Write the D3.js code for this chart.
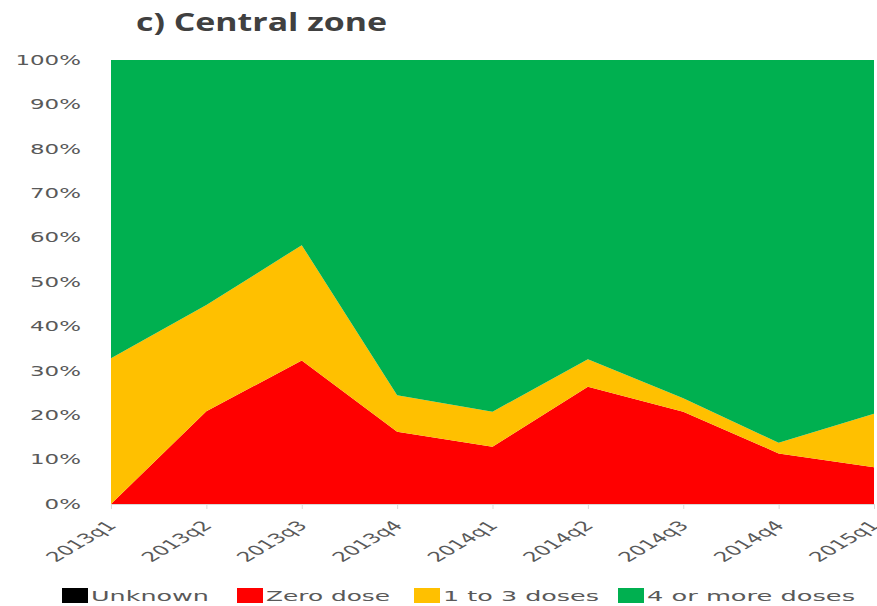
<!DOCTYPE html>
<html>
<head>
<meta charset="utf-8">
<script src="https://cdn.jsdelivr.net/npm/d3@7"></script>
<style>
  body { margin: 0; background: #fff; }
  svg { display: block; }
</style>
</head>
<body>
<div id="chart"></div>
<script>
var quarters = ["2013q1","2013q2","2013q3","2013q4","2014q1","2014q2","2014q3","2014q4","2015q1"];
var unknown    = [0, 0, 0, 0, 0, 0, 0, 0, 0];
var zeroDose   = [0, 20.9, 32.3, 16.3, 12.9, 26.4, 20.8, 11.4, 8.3];
var oneToThree = [32.8, 23.9, 26.0, 8.2, 7.9, 6.2, 3.0, 2.4, 12.0];
var fourPlus   = [67.2, 55.2, 41.7, 75.5, 79.2, 67.4, 76.2, 86.2, 79.7];
var yTicks = [0,10,20,30,40,50,60,70,80,90,100];

var seriesNames = ["Unknown","Zero dose","1 to 3 doses","4 or more doses"];
var colors = ["#000000","#FF0000","#FFC000","#00B050"];

var width = 877, height = 606;
var margin = {top: 60, right: 3, bottom: 102, left: 111};
var sx = 1.7; // text in the picture is stretched sideways

var rows = quarters.map(function(q, i) {
  return {q: q, "Unknown": unknown[i], "Zero dose": zeroDose[i],
          "1 to 3 doses": oneToThree[i], "4 or more doses": fourPlus[i]};
});

var x = d3.scalePoint()
  .domain(quarters)
  .range([margin.left, width - margin.right]);

var y = d3.scaleLinear()
  .domain([0, 100])
  .range([height - margin.bottom, margin.top]);

var layers = d3.stack().keys(seriesNames)(rows);

var area = d3.area()
  .x(function(d) { return x(d.data.q); })
  .y0(function(d) { return y(d[0]); })
  .y1(function(d) { return y(d[1]); });

var svg = d3.select("#chart").append("svg")
  .attr("width", width)
  .attr("height", height);

svg.selectAll("path.layer")
  .data(layers)
  .enter().append("path")
  .attr("class", "layer")
  .attr("d", area)
  .attr("fill", function(d, i) { return colors[i]; });

// title
svg.append("text")
  .attr("x", 136)
  .attr("y", 31)
  .attr("font-family", "'Open Sans', sans-serif")
  .attr("font-weight", "bold")
  .attr("font-size", 25)
  .attr("fill", "#404040")
  .attr("textLength", 251)
  .attr("lengthAdjust", "spacingAndGlyphs")
  .text("c) Central zone");

// y labels
svg.selectAll("text.ylab")
  .data(yTicks)
  .enter().append("text")
  .attr("class", "ylab")
  .attr("transform", function(d) { return "translate(81," + y(d) + ") scale(" + sx + ",1)"; })
  .attr("text-anchor", "end")
  .attr("dy", "0.35em")
  .attr("font-family", "'DejaVu Sans', sans-serif")
  .attr("font-size", 13.5)
  .attr("fill", "#595959")
  .text(function(d) { return d + "%"; });

// x axis
var gx = svg.append("g")
  .attr("transform", "translate(0," + (height - margin.bottom) + ")")
  .call(d3.axisBottom(x).tickSize(5).tickFormat(""));
gx.select(".domain").attr("stroke", "#d9d9d9");
gx.selectAll(".tick line").attr("stroke", "#d9d9d9");

svg.selectAll("text.xlab")
  .data(quarters)
  .enter().append("text")
  .attr("class", "xlab")
  .attr("transform", function(d) { return "translate(" + (x(d) + 1) + ",523) scale(" + sx + ",1) rotate(-45)"; })
  .attr("text-anchor", "end")
  .attr("dy", "0.35em")
  .attr("font-family", "'DejaVu Sans', sans-serif")
  .attr("font-size", 13.5)
  .attr("fill", "#595959")
  .text(function(d) { return d; });

// legend
var legendX = [62, 237, 414, 618];
var legendW = [118, 124, 156, 208];
var leg = svg.selectAll("g.leg")
  .data(seriesNames)
  .enter().append("g")
  .attr("class", "leg")
  .attr("transform", function(d, i) { return "translate(" + legendX[i] + ",588)"; });

leg.append("rect")
  .attr("width", 26)
  .attr("height", 15)
  .attr("fill", function(d, i) { return colors[i]; });

leg.append("text")
  .attr("x", 29)
  .attr("y", 8)
  .attr("dy", "0.35em")
  .attr("font-family", "'DejaVu Sans', sans-serif")
  .attr("font-size", 14)
  .attr("fill", "#595959")
  .attr("textLength", function(d, i) { return legendW[i]; })
  .attr("lengthAdjust", "spacingAndGlyphs")
  .text(function(d) { return d; });
</script>
</body>
</html>
